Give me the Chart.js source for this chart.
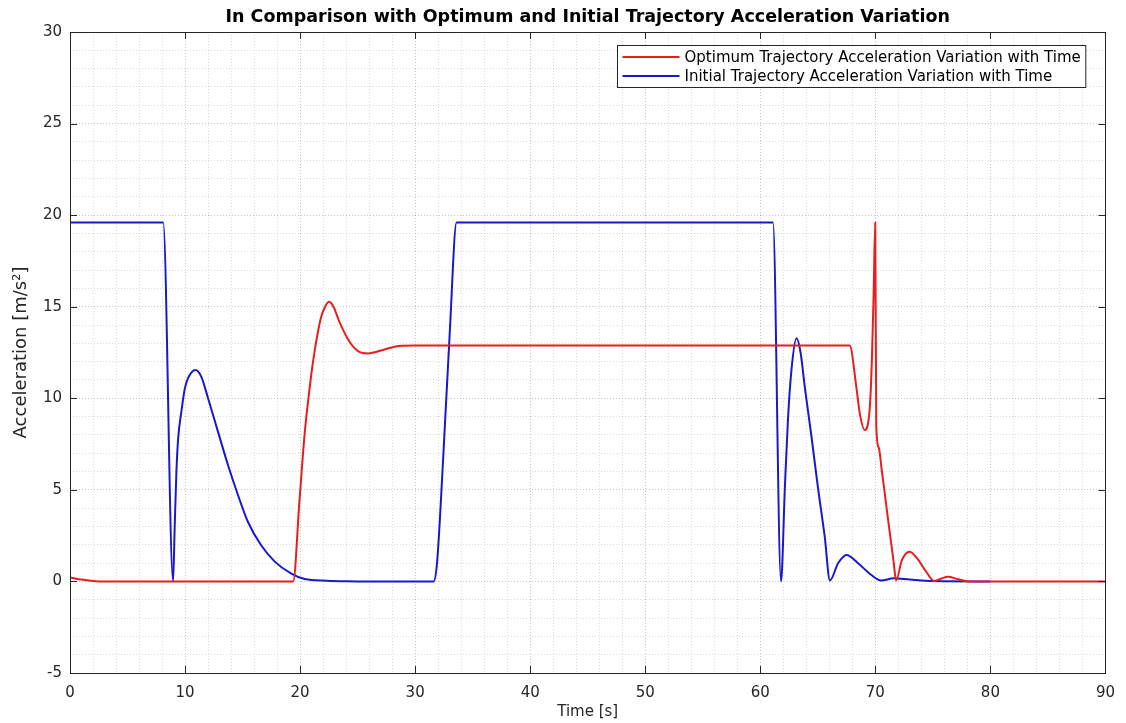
<!DOCTYPE html>
<html><head><meta charset="utf-8">
<script src="https://cdn.jsdelivr.net/npm/chart.js@4.4.0/dist/chart.umd.min.js"></script>
<style>html,body{margin:0;padding:0;background:#fff;}canvas{display:block;}</style>
</head><body>
<canvas id="c" width="1126" height="723"></canvas>
<script>
const chartTitle = "In Comparison with Optimum and Initial Trajectory Acceleration Variation";
const xAxisTitle = "Time [s]";
const yAxisTitle = "Acceleration [m/s\u00B2]";
const seriesLabels = ["Optimum Trajectory Acceleration Variation with Time", "Initial Trajectory Acceleration Variation with Time"];
const xTickLabels = [0, 10, 20, 30, 40, 50, 60, 70, 80, 90];
const yTickLabels = [-5, 0, 5, 10, 15, 20, 25, 30];

const optTime  = [0, 1, 2, 3, 19.4, 19.95, 20.4, 20.8, 21.1, 21.4, 21.8, 22.1, 22.5, 22.9, 23.4, 24.28, 25.1, 25.9, 27.2, 28.6, 30.06, 67.77, 68.35, 68.64, 69.07, 69.5, 69.7, 69.85, 69.99, 70.08, 70.3, 70.55, 70.8, 71.1, 71.37, 71.6, 71.8, 72.3, 72.98, 73.7, 74.4, 75.1, 75.7, 76.3, 77.2, 78.3, 90];
const optAccel = [0.22, 0.1, 0.03, 0, 0, 4.45, 8.1, 10.4, 11.9, 13.1, 14.37, 14.9, 15.27, 15.0, 14.2, 13.1, 12.55, 12.45, 12.64, 12.86, 12.88, 12.88, 10.6, 9.2, 8.27, 9.36, 12.1, 15.7, 19.6, 8.45, 7.3, 6.1, 4.9, 3.4, 2.1, 1.0, 0.05, 1.15, 1.62, 1.2, 0.55, 0.03, 0.15, 0.26, 0.12, 0, 0];

const initTime  = [0, 8.1, 8.96, 9.1, 9.25, 9.4, 9.68, 9.97, 10.26, 10.9, 11.4, 12.0, 12.86, 13.73, 14.6, 15.46, 16.6, 17.8, 19.2, 20.4, 22.3, 24, 26, 31.6, 31.9, 32.4, 33.0, 33.6, 61.1, 61.8, 62.14, 62.4, 62.7, 63.15, 63.5, 63.87, 64.45, 65.0, 65.6, 66.05, 66.76, 67.5, 68.5, 69.65, 70.5, 71.6, 73, 75, 80];
const initAccel = [19.6, 19.6, 0, 3.0, 6.0, 7.8, 9.27, 10.5, 11.1, 11.55, 11.2, 10.0, 8.18, 6.36, 4.72, 3.26, 1.99, 1.08, 0.44, 0.13, 0.04, 0.01, 0, 0, 1.0, 6.3, 13.5, 19.6, 19.6, 0, 5.2, 8.8, 11.5, 13.28, 12.5, 10.6, 7.9, 5.17, 2.44, 0.05, 0.99, 1.44, 0.99, 0.35, 0.05, 0.17, 0.1, 0.02, 0];

const redColor = '#e81e1e';
const blueColor = '#1818cc';
const axisColor = '#262626';
const fontFamily = "'DejaVu Sans', Verdana, sans-serif";
const titleFamily = "'DejaVu Sans', Verdana, sans-serif";

function pts(xs, ys) { return xs.map((x, i) => ({ x: x, y: ys[i] })); }

const boxPlugin = {
  id: 'boxPlugin',
  afterDatasetsDraw(chart) {
    const { ctx, chartArea: a, scales: { x, y } } = chart;
    ctx.save();
    ctx.strokeStyle = axisColor;
    ctx.lineWidth = 1;
    ctx.strokeRect(Math.round(a.left) + 0.5, Math.round(a.top) + 0.5, Math.round(a.right - a.left), Math.round(a.bottom - a.top));
    const tl = 7;
    ctx.beginPath();
    xTickLabels.forEach(v => {
      const px = Math.round(x.getPixelForValue(v)) + 0.5;
      ctx.moveTo(px, a.bottom); ctx.lineTo(px, a.bottom - tl);
      ctx.moveTo(px, a.top); ctx.lineTo(px, a.top + tl);
    });
    yTickLabels.forEach(v => {
      const py = Math.round(y.getPixelForValue(v)) + 0.5;
      ctx.moveTo(a.left, py); ctx.lineTo(a.left + tl, py);
      ctx.moveTo(a.right, py); ctx.lineTo(a.right - tl, py);
    });
    ctx.stroke();

    // title, centred over the plot area
    ctx.font = 'bold 17.5px ' + titleFamily;
    ctx.fillStyle = '#000';
    ctx.textAlign = 'center';
    ctx.textBaseline = 'middle';
    ctx.fillText(chartTitle, (a.left + a.right) / 2, a.top - 15);

    // legend box
    ctx.font = '15px ' + fontFamily;
    const ds = chart.data.datasets;
    let tw = 0;
    ds.forEach(d => { tw = Math.max(tw, ctx.measureText(d.label).width); });
    const lineLen = 57, pad = 5, rowH = 19;
    const bw = pad + lineLen + pad + tw + pad;
    const bh = rowH * ds.length + 4;
    const bx = Math.round(a.right - 20 - bw) + 0.5;
    const by = Math.round(a.top + 13) + 0.5;
    ctx.fillStyle = '#ffffff';
    ctx.fillRect(bx, by, bw, bh);
    ctx.strokeStyle = axisColor;
    ctx.lineWidth = 1;
    ctx.strokeRect(bx, by, bw, bh);
    ds.forEach((d, i) => {
      const cy = by + 2 + rowH * i + rowH / 2;
      ctx.strokeStyle = d.borderColor;
      ctx.lineWidth = 2;
      ctx.beginPath();
      ctx.moveTo(bx + pad, cy); ctx.lineTo(bx + pad + lineLen, cy);
      ctx.stroke();
      ctx.fillStyle = '#000';
      ctx.textBaseline = 'middle';
      ctx.textAlign = 'left';
      ctx.fillText(d.label, bx + pad + lineLen + pad, cy + 1);
    });
    ctx.restore();
  }
};

new Chart(document.getElementById('c'), {
  type: 'line',
  data: {
    datasets: [
      { label: seriesLabels[0], data: pts(optTime, optAccel), borderColor: redColor, borderWidth: 2, pointRadius: 0, cubicInterpolationMode: 'monotone', fill: false },
      { label: seriesLabels[1], data: pts(initTime, initAccel), borderColor: blueColor, borderWidth: 2, pointRadius: 0, cubicInterpolationMode: 'monotone', fill: false }
    ]
  },
  options: {
    responsive: false,
    animation: false,
    layout: { padding: { top: 32, right: 18, left: 0, bottom: 0 } },
    plugins: {
      legend: { display: false },
      tooltip: { enabled: false },
      title: { display: false }
    },
    scales: {
      x: {
        type: 'linear', min: 0, max: 90,
        afterFit(s) { s.height = 50; },
        ticks: {
          stepSize: 2, autoSkip: false, maxRotation: 0, padding: 11, color: axisColor,
          font: { family: fontFamily, size: 15 },
          callback: v => xTickLabels.includes(v) ? String(v) : ''
        },
        grid: {
          drawTicks: false,
          color: c => (xTickLabels.includes(c.tick.value) ? 'rgba(0,0,0,0.22)' : 'rgba(0,0,0,0.14)'),
          lineWidth: 1
        },
        border: { display: false, dash: [1, 2] },
        title: { display: true, text: xAxisTitle, color: axisColor, font: { family: fontFamily, size: 15 }, padding: { top: 0, bottom: 2 } }
      },
      y: {
        type: 'linear', min: -5, max: 30,
        afterFit(s) { s.width = 70; },
        ticks: {
          stepSize: 1, autoSkip: false, padding: 8, color: axisColor,
          font: { family: fontFamily, size: 15 },
          callback: v => yTickLabels.includes(v) ? String(v) : ''
        },
        grid: {
          drawTicks: false,
          color: c => (yTickLabels.includes(c.tick.value) ? 'rgba(0,0,0,0.22)' : 'rgba(0,0,0,0.14)'),
          lineWidth: 1
        },
        border: { display: false, dash: [1, 2] },
        title: { display: true, text: yAxisTitle, color: axisColor, font: { family: fontFamily, size: 18 }, padding: { top: 11, bottom: 0 } }
      }
    }
  },
  plugins: [boxPlugin]
});
</script>
</body></html>
